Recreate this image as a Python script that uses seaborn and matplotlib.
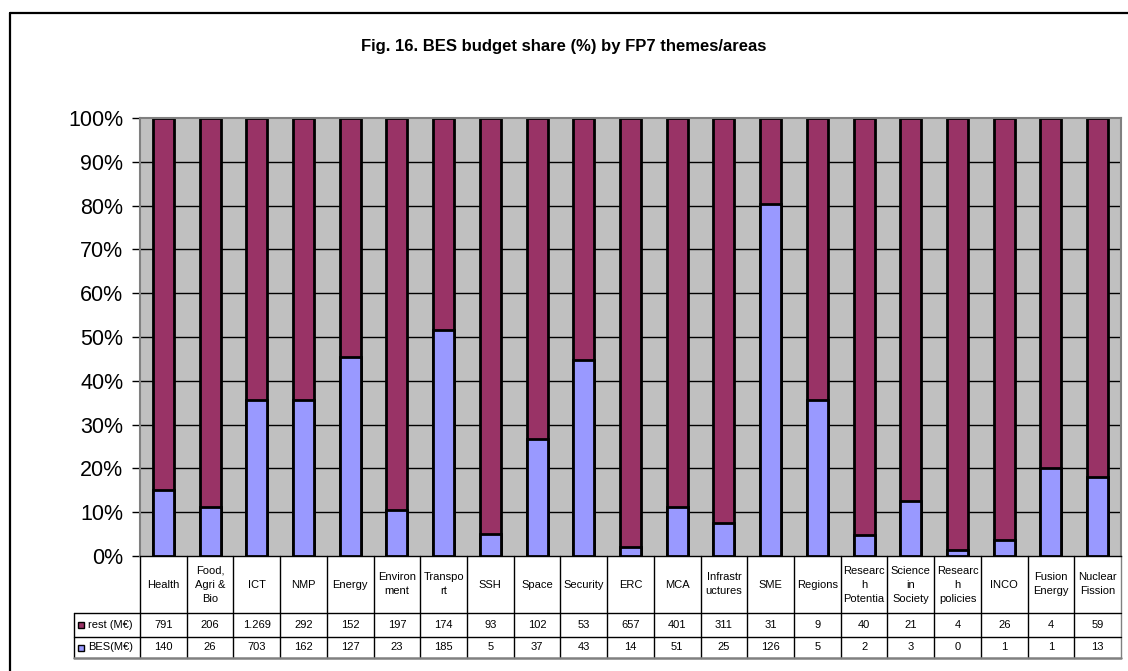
import matplotlib
matplotlib.use("Agg")
import matplotlib.pyplot as plt
from matplotlib.lines import Line2D
import seaborn as sns
import pandas as pd

categories = ["Health", "Food, Agri & Bio", "ICT", "NMP", "Energy", "Environment",
              "Transport", "SSH", "Space", "Security", "ERC", "MCA", "Infrastructures",
              "SME", "Regions", "Research Potential", "Science in Society",
              "Research policies", "INCO", "Fusion Energy", "Nuclear Fission"]
header_labels = ["Health", "Food,\nAgri &\nBio", "ICT", "NMP", "Energy", "Environ\nment",
                 "Transpo\nrt", "SSH", "Space", "Security", "ERC", "MCA", "Infrastr\nuctures",
                 "SME", "Regions", "Researc\nh\nPotentia", "Science\nin\nSociety",
                 "Researc\nh\npolicies", "INCO", "Fusion\nEnergy", "Nuclear\nFission"]
rest_values = [791, 206, 1269, 292, 152, 197, 174, 93, 102, 53, 657, 401, 311, 31, 9,
               40, 21, 4, 26, 4, 59]
bes_values = [140, 26, 703, 162, 127, 23, 185, 5, 37, 43, 14, 51, 25, 126, 5,
              2, 3, 0.06, 1, 1, 13]
series_names = ["rest (M\u20ac)", "BES(M\u20ac)"]
title = "Fig. 16. BES budget share (%) by FP7 themes/areas"
yticks = [0, 10, 20, 30, 40, 50, 60, 70, 80, 90, 100]

PURPLE = "#993366"
BLUE = "#9999FF"
GRAY = "#C0C0C0"

df = pd.DataFrame({"category": categories, "rest": rest_values, "bes": bes_values})
df["total"] = df["rest"] + df["bes"]
df["bes_pct"] = df["bes"] / df["total"] * 100
df["all_pct"] = 100.0

sns.set_theme(style="white")
plt.rcParams["font.family"] = ["Liberation Sans", "DejaVu Sans"]
plt.rcParams["text.color"] = "black"
plt.rcParams["xtick.color"] = "black"
plt.rcParams["ytick.color"] = "black"
plt.rcParams["axes.labelcolor"] = "black"

fig = plt.figure(figsize=(11.28, 6.71), dpi=100)
ax = fig.add_axes([140 / 1128, 1 - 556 / 671, 981 / 1128, 438 / 671])
ax.set_facecolor(GRAY)

# gridlines
for t in yticks[1:-1]:
    ax.axhline(t, color="black", lw=1.0, zorder=0.5)

sns.barplot(data=df, x="category", y="all_pct", order=categories, color=PURPLE,
            saturation=1, width=0.45, edgecolor="black", linewidth=2.0, ax=ax, zorder=2)
sns.barplot(data=df, x="category", y="bes_pct", order=categories, color=BLUE,
            saturation=1, width=0.45, edgecolor="black", linewidth=2.0, ax=ax, zorder=3)

n = len(categories)
ax.set_xlim(-0.5, n - 0.5)
ax.set_ylim(0, 100)
ax.set_yticks(yticks)
ax.set_yticklabels([f"{t}%" for t in yticks], fontsize=15.5, color="black")
ax.set_xticks([])
ax.set_xlabel("")
ax.set_ylabel("")
ax.tick_params(axis="y", direction="out", length=6, width=1, color="black", pad=6,
               left=True)
for s in ["top", "right", "left"]:
    ax.spines[s].set_color("#808080")
    ax.spines[s].set_linewidth(1.5)
ax.spines["bottom"].set_color("black")
ax.spines["bottom"].set_linewidth(1.0)

# Data table below the axes
trans = ax.get_xaxis_transform()
h_head = -57 / 438
h_r1 = -81 / 438
h_r2 = -102 / 438
tbl_left = (74 - 140) / 981
fs = 8

for i in range(n + 1):
    x = i - 0.5
    col = "black" if i < n else "#808080"
    ax.add_line(Line2D([x, x], [0, h_r2], transform=trans, color=col, lw=1,
                       clip_on=False))
ax.add_line(Line2D([tbl_left, tbl_left], [h_head, h_r2], transform=ax.transAxes,
                   color="black", lw=1, clip_on=False))
for yy, col, lw in [(h_head, "black", 1), (h_r1, "black", 1), (h_r2, "#808080", 1.8)]:
    ax.add_line(Line2D([tbl_left, 1], [yy, yy], transform=ax.transAxes, color=col,
                       lw=lw, clip_on=False))

for i, lab in enumerate(header_labels):
    ax.text(i, h_head / 2, lab, transform=trans, ha="center", va="center",
            fontsize=fs, linespacing=1.5, color="black")
    ax.text(i, (h_head + h_r1) / 2, f"{rest_values[i]:,}".replace(",", "."),
            transform=trans, ha="center", va="center", fontsize=fs, color="black")
    ax.text(i, (h_r1 + h_r2) / 2, f"{bes_values[i]:,.0f}".replace(",", "."),
            transform=trans, ha="center", va="center", fontsize=fs, color="black")

for (name, colr, y0, y1) in [(series_names[0], PURPLE, h_head, h_r1),
                              (series_names[1], BLUE, h_r1, h_r2)]:
    ym = (y0 + y1) / 2
    ax.plot([tbl_left + 0.0075], [ym], marker="s", markersize=4.5, color=colr,
            markeredgecolor="black", markeredgewidth=1, transform=ax.transAxes,
            clip_on=False)
    ax.text(tbl_left + 0.014, ym, name, transform=ax.transAxes, ha="left",
            va="center", fontsize=fs, color="black")

fig.text(0.5, 1 - 47 / 671, title, ha="center", va="center", fontsize=12,
         fontweight="bold", color="black")

fig.add_artist(Line2D([10 / 1128, 10 / 1128], [0, 1 - 13 / 671],
                      transform=fig.transFigure, color="black", lw=1.6))
fig.add_artist(Line2D([10 / 1128, 1], [1 - 13 / 671, 1 - 13 / 671],
                      transform=fig.transFigure, color="black", lw=1.6))

fig.savefig("out.png", dpi=100, facecolor="white")
